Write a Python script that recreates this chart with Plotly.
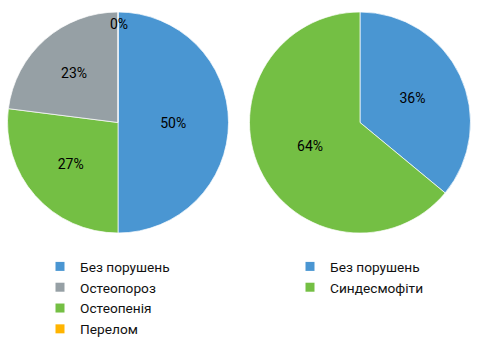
import plotly.graph_objects as go

# Data
left_labels = ["Без порушень", "Остеопенія", "Остеопороз", "Перелом"]
left_values = [50, 27, 23, 0]
left_colors = ["#4A96D2", "#74BF44", "#96A0A5", "#FFB400"]
left_legend_order = ["Без порушень", "Остеопороз", "Остеопенія", "Перелом"]

right_labels = ["Без порушень", "Синдесмофіти"]
right_values = [36, 64]
right_colors = ["#4A96D2", "#74BF44"]

FONT = "Roboto, Liberation Sans, Arial, sans-serif"
W, H = 478, 354

fig = go.Figure()

fig.add_trace(go.Pie(
    labels=left_labels, values=left_values, sort=False, direction="clockwise",
    rotation=0, marker=dict(colors=left_colors, line=dict(color="white", width=0.7)),
    textinfo="percent", texttemplate="%{value}%", textposition="inside",
    insidetextorientation="horizontal",
    textfont=dict(family=FONT, size=14, color="#000"),
    domain=dict(x=[7 / W, 229 / W], y=[1 - 233 / H, 1 - 12 / H]),
    showlegend=False, hoverinfo="label+percent",
))
fig.add_trace(go.Pie(
    labels=right_labels, values=right_values, sort=False, direction="clockwise",
    rotation=0, marker=dict(colors=right_colors, line=dict(color="white", width=0.7)),
    textinfo="percent", texttemplate="%{value}%", textposition="inside",
    insidetextorientation="horizontal",
    textfont=dict(family=FONT, size=14, color="#000"),
    domain=dict(x=[248 / W, 472 / W], y=[1 - 233 / H, 1 - 12 / H]),
    showlegend=False, hoverinfo="label+percent",
))

color_of = dict(zip(left_labels, left_colors))
for lab in left_legend_order:
    fig.add_trace(go.Scatter(x=[None], y=[None], mode="markers", name=lab,
                             marker=dict(symbol="square", size=9, color=color_of[lab]),
                             legend="legend"))
for lab, col in zip(right_labels, right_colors):
    fig.add_trace(go.Scatter(x=[None], y=[None], mode="markers", name=lab,
                             marker=dict(symbol="square", size=9, color=col),
                             legend="legend2"))

# label for the zero-size "Перелом" slice (plotly draws no text for empty slices)
zero_label = f"{left_values[3]}%"
fig.add_annotation(text=zero_label, x=119 / W, y=1 - 24 / H, xref="paper", yref="paper",
                   xanchor="center", yanchor="middle",
                   showarrow=False, font=dict(family=FONT, size=14, color="#000"))

fig.update_layout(
    width=W, height=H, margin=dict(l=0, r=0, t=0, b=0),
    paper_bgcolor="white", plot_bgcolor="white",
    xaxis=dict(visible=False), yaxis=dict(visible=False),
    legend=dict(x=40 / W, y=1 - 251 / H, xanchor="left", yanchor="top",
                font=dict(family=FONT, size=13.7, color="#111"), bgcolor="rgba(0,0,0,0)",
                itemclick=False),
    legend2=dict(x=290 / W, y=1 - 251 / H, xanchor="left", yanchor="top",
                 font=dict(family=FONT, size=13.7, color="#111"), bgcolor="rgba(0,0,0,0)",
                 itemclick=False),
)

fig.write_html("out.html")
